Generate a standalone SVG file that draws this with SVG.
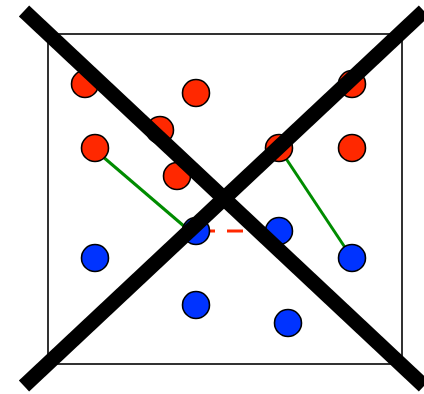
<svg xmlns="http://www.w3.org/2000/svg" width="424" height="394" viewBox="0 0 424 394">
<style>
.red{fill:#ff2800;stroke:#000;stroke-width:1.6}
.blue{fill:#0033ff;stroke:#000;stroke-width:1.6}
.green{stroke:#008c00;stroke-width:3;fill:none}
.dash{stroke:#ff2800;stroke-width:3;stroke-dasharray:16 12;fill:none}
.cross{stroke:#000;stroke-width:15;fill:none}
</style>
<rect x="48" y="34" width="354" height="330" fill="#fff" stroke="#000" stroke-width="1.6"/>
<g id="connectors">
<line class="green" x1="95" y1="150" x2="192" y2="233"/>
<line class="green" x1="279" y1="148" x2="352" y2="258"/>
<line class="dash" x1="199" y1="231" x2="279" y2="231"/>
</g>
<g id="r1"><circle class="red" cx="85" cy="84" r="13.5"/></g>
<g id="r2"><circle class="red" cx="196" cy="93" r="13.5"/></g>
<g id="r3"><circle class="red" cx="160" cy="130" r="13.5"/></g>
<g id="r4"><circle class="red" cx="95" cy="148" r="13.5"/></g>
<g id="r5"><circle class="red" cx="177" cy="176" r="13.5"/></g>
<g id="r6"><circle class="red" cx="352" cy="84" r="13.5"/></g>
<g id="r7"><circle class="red" cx="279" cy="148" r="13.5"/></g>
<g id="r8"><circle class="red" cx="352" cy="148" r="13.5"/></g>
<g id="b1"><circle class="blue" cx="95" cy="258" r="13.5"/></g>
<g id="b2"><circle class="blue" cx="196" cy="231" r="13.5"/></g>
<g id="b3"><circle class="blue" cx="196" cy="305" r="13.5"/></g>
<g id="b4"><circle class="blue" cx="279" cy="231" r="13.5"/></g>
<g id="b5"><circle class="blue" cx="352" cy="258" r="13.5"/></g>
<g id="b6"><circle class="blue" cx="288" cy="323" r="13.5"/></g>
<g id="cross">
<line class="cross" x1="24" y1="11" x2="424" y2="386"/>
<line class="cross" x1="24" y1="386" x2="424" y2="11"/>
</g>
</svg>
